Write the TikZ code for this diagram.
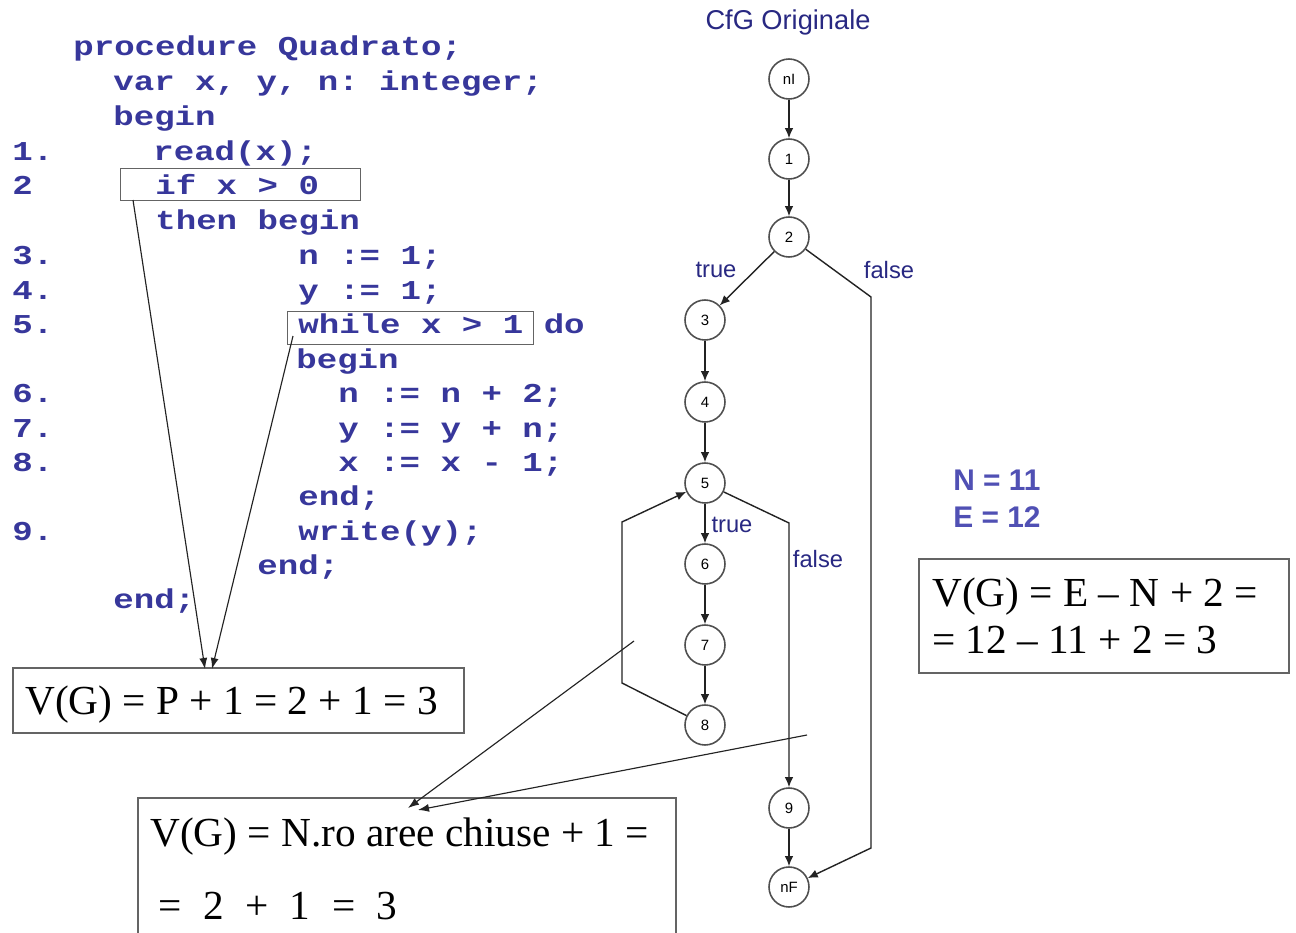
\documentclass[tikz,border=0pt]{standalone}
\usepackage{fontspec}
\usepackage{graphicx}
\setmainfont{Liberation Serif}
\setsansfont{Liberation Sans}
\setmonofont{Liberation Mono}
\usetikzlibrary{arrows.meta}
\definecolor{codeblue}{RGB}{55,55,155}
\definecolor{lblblue}{RGB}{40,40,130}
\definecolor{nblue}{RGB}{80,80,180}
\definecolor{linec}{RGB}{35,35,35}
\definecolor{boxc}{RGB}{100,100,100}
\newcommand\codeline[1]{\scalebox{1}[0.8]{#1}}
\tikzset{
 code/.style={anchor=base west, inner sep=0pt, text=codeblue, font=\fontsize{19.4}{20}\selectfont\ttfamily\bfseries},
 gnode/.style={circle, draw=linec!80, line width=0.9pt, minimum size=0.8cm, inner sep=0pt, font=\fontsize{8.5}{9}\selectfont\sffamily},
 gedge/.style={draw=linec, line width=0.8pt, -{Latex[length=0.2cm,width=0.17cm]}},
 glabel/.style={inner sep=0pt, text=lblblue, font=\fontsize{13.5}{15}\selectfont\sffamily},
 fbox/.style={draw=boxc, line width=1.1pt, anchor=north west, inner sep=0pt},
 ftext/.style={anchor=base west, inner sep=0pt, font=\fontsize{23.5}{25}\selectfont},
 hbox/.style={draw=boxc, line width=0.8pt, anchor=north west, inner sep=0pt},
 pointer/.style={draw=linec, line width=0.65pt, -{Latex[length=0.22cm,width=0.16cm]}},
 nelabel/.style={anchor=base west, inner sep=0pt, text=nblue, font=\fontsize{17}{19}\selectfont\sffamily\bfseries},
}
\begin{document}
\begin{tikzpicture}[x=0.02cm,y=-0.02cm]
\fill[white] (0,0) rectangle (1296,933);
\useasboundingbox (0,0) rectangle (1296,933);

% ---- code listing ----
\node[code] (c1) at (73,55) {\codeline{procedure Quadrato;}};
\node[code] (c2) at (113,91) {\codeline{var x, y, n: integer;}};
\node[code] (c3) at (113,125) {\codeline{begin}};
\node[code] (n1) at (12,160) {\codeline{1.}};
\node[code] (c4) at (153,160) {\codeline{read(x);}};
\node[code] (n2) at (12,194) {\codeline{2}};
\node[code] (c5) at (155,194) {\codeline{if x > 0}};
\node[code] (c6) at (155,229) {\codeline{then begin}};
\node[code] (n3) at (12,264) {\codeline{3.}};
\node[code] (c7) at (298,264) {\codeline{n := 1;}};
\node[code] (n4) at (12,299) {\codeline{4.}};
\node[code] (c8) at (298,299) {\codeline{y := 1;}};
\node[code] (n5) at (12,333) {\codeline{5.}};
\node[code] (c9) at (298,333) {\codeline{while x > 1 do}};
\node[code] (c10) at (296,368) {\codeline{begin}};
\node[code] (n6) at (12,402) {\codeline{6.}};
\node[code] (c11) at (338,402) {\codeline{n := n + 2;}};
\node[code] (n7) at (12,437) {\codeline{7.}};
\node[code] (c12) at (338,437) {\codeline{y := y + n;}};
\node[code] (n8) at (12,471) {\codeline{8.}};
\node[code] (c13) at (338,471) {\codeline{x := x - 1;}};
\node[code] (c14) at (298,505) {\codeline{end;}};
\node[code] (n9) at (12,540) {\codeline{9.}};
\node[code] (c15) at (298,540) {\codeline{write(y);}};
\node[code] (c16) at (257,574) {\codeline{end;}};
\node[code] (c17) at (113,608) {\codeline{end;}};

% highlight boxes
\node[hbox, minimum width=4.8cm, minimum height=0.64cm] (ifbox) at (120,168) {};
\node[hbox, minimum width=4.92cm, minimum height=0.66cm] (whilebox) at (287,311) {};

% ---- formula boxes ----
\node[fbox, minimum width=9.02cm, minimum height=1.3cm] (box1) at (12,667) {};
\node[ftext] (t1) at (25,714) {V(G) = P + 1 = 2 + 1 = 3};

\node[fbox, minimum width=7.4cm, minimum height=2.28cm] (box2) at (918,558) {};
\node[ftext] (t2a) at (932,606) {V(G) = E – N + 2 =};
\node[ftext] (t2b) at (932,653) {= 12 – 11 + 2 = 3};

\node[fbox, minimum width=10.76cm, minimum height=3.0cm] (box3) at (137,797) {};
\node[ftext] (t3a) at (150,846) {V(G) = N.ro aree chiuse + 1 =};
\node[ftext] (t3b) at (158,919) {=\hspace{0.52em}2\hspace{0.52em}+\hspace{0.52em}1\hspace{0.52em}=\hspace{0.52em}3};

\node[nelabel] (nn) at (953,490) {N = 11};
\node[nelabel] (ee) at (953,527) {E = 12};

% ---- pointers from code ----
\coordinate (ifA) at (133,200);
\coordinate (whA) at (293,336);
\coordinate (b1A) at (205,669);
\coordinate (b1B) at (212,669);
\draw[pointer] (ifA) -- (b1A);
\draw[pointer] (whA) -- (b1B);

% ---- CFG ----
\node[glabel, font=\fontsize{15.5}{17}\selectfont\sffamily] (title) at (788,22) {CfG Originale};
\node[gnode] (nI) at (789,79) {nI};
\node[gnode] (s1) at (789,159) {1};
\node[gnode] (s2) at (789,237) {2};
\node[gnode] (s3) at (705,320) {3};
\node[gnode] (s4) at (705,402) {4};
\node[gnode] (s5) at (705,483) {5};
\node[gnode] (s6) at (705,564) {6};
\node[gnode] (s7) at (705,645) {7};
\node[gnode] (s8) at (705,725) {8};
\node[gnode] (s9) at (789,808) {9};
\node[gnode] (nF) at (789,887) {nF};

\draw[gedge] (nI) -- (s1);
\draw[gedge] (s1) -- (s2);
\draw[gedge] (s2) -- (s3);
\coordinate (f2a) at (871,297);
\coordinate (f2b) at (871,848);
\draw[gedge] (s2) -- (f2a) -- (f2b) -- (nF);
\draw[gedge] (s3) -- (s4);
\draw[gedge] (s4) -- (s5);
\draw[gedge] (s5) -- (s6);
\coordinate (f5a) at (789,523);
\draw[gedge] (s5) -- (f5a) -- (s9);
\draw[gedge] (s6) -- (s7);
\draw[gedge] (s7) -- (s8);
\coordinate (l8a) at (622,683);
\coordinate (l8b) at (622,522);
\draw[gedge] (s8) -- (l8a) -- (l8b) -- (s5);
\draw[gedge] (s9) -- (nF);

\node[glabel] (tr1) at (716,270) {true};
\node[glabel] (fa1) at (889,270) {false};
\node[glabel] (tr2) at (732,525) {true};
\node[glabel] (fa2) at (818,559) {false};

% ---- pointers to closed areas ----
\coordinate (areaA) at (634,641);
\coordinate (areaB) at (807,735);
\coordinate (b3A) at (408,808);
\coordinate (b3B) at (418,810);
\draw[pointer] (areaA) -- (b3A);
\draw[pointer] (areaB) -- (b3B);
\end{tikzpicture}
\end{document}
